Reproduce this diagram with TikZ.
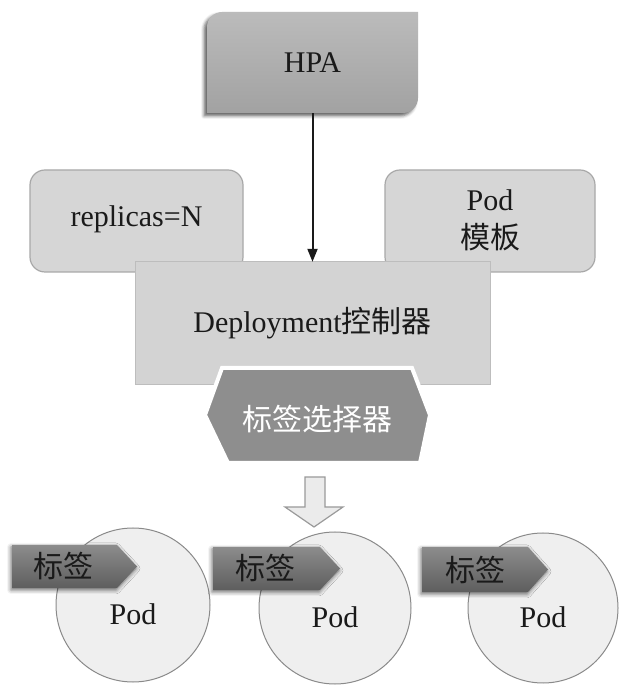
\documentclass[tikz,border=0pt]{standalone}
\usepackage{fontspec}
\setmainfont{Liberation Serif}
\newfontfamily\cjk{Noto Sans CJK SC}
\usetikzlibrary{shadows,shadows.blur,arrows.meta}
\definecolor{hpaTop}{HTML}{BBBBBB}
\definecolor{hpaBot}{HTML}{A2A2A2}
\definecolor{boxFill}{HTML}{D6D6D6}
\definecolor{boxEdge}{HTML}{A8A8A8}
\definecolor{depFill}{HTML}{D3D3D3}
\definecolor{depEdge}{HTML}{BDBDBD}
\definecolor{selFill}{HTML}{8E8E8E}
\definecolor{arrFill}{HTML}{EBEBEB}
\definecolor{arrEdge}{HTML}{9A9A9A}
\definecolor{circFill}{HTML}{EFEFEF}
\definecolor{circEdge}{HTML}{8A8A8A}
\definecolor{tagTop}{HTML}{8C8C8C}
\definecolor{tagBot}{HTML}{5E5E5E}
\definecolor{ink}{HTML}{1A1A1A}
\tikzset{
  txt/.style={inner sep=0pt, text=ink, align=center},
  softbox/.style={fill=boxFill, draw=boxEdge, line width=1.2pt, rounded corners=15pt},
  podcirc/.style={circle, draw=circEdge, fill=circFill, line width=1pt, inner sep=0pt},
  tagshape/.style={top color=tagTop, bottom color=tagBot,
    blur shadow={shadow xshift=-1pt, shadow yshift=-2pt, shadow blur radius=4pt, shadow opacity=60}},
}
\begin{document}
\begin{tikzpicture}[x=1pt,y=1pt, font=\fontsize{30}{40}\selectfont]
\useasboundingbox (0,0) rectangle (625,685);
% side boxes
\path[softbox] (30,413) rectangle (243,515);
\node[txt, minimum width=213pt, minimum height=102pt] (rep) at (136.5,466) {replicas=N};
\path[softbox] (385,413) rectangle (595,515);
\node[txt, minimum width=210pt, minimum height=102pt] (tpl) at (490,465) {Pod\\[-2pt]{\cjk 模板}};
% deployment
\path[fill=depFill, draw=depEdge, line width=1pt] (135,300) rectangle (490,423);
\node[txt, minimum width=355pt, minimum height=123pt] (dep) at (312.5,361.5) {Deployment{\cjk 控制器}};
% selector hexagon
\path[fill=selFill, draw=white, line width=4pt, line join=miter]
  (205,270) -- (222,317) -- (412,317) -- (430,270) -- (420,222) -- (228,222) -- cycle;
\node[txt, text=white, font=\cjk\fontsize{30}{36}\selectfont] (sel) at (317,266) {标签选择器};
% HPA
\path[top color=hpaTop, bottom color=hpaBot,
  blur shadow={shadow xshift=-3pt, shadow yshift=-3pt, shadow blur radius=3pt, shadow opacity=60}]
  (207,572) -- (207,658) arc[start angle=180, end angle=90, radius=15]
  -- (418,673) -- (418,587) arc[start angle=0, end angle=-90, radius=15] -- cycle;
\node[txt, minimum width=211pt, minimum height=101pt] (hpa) at (312.5,622.5) {HPA};
\draw[-{Triangle[length=13pt,width=10pt]}, line width=2pt, ink] (hpa.south) -- (dep.north);
% hollow arrow
\path[fill=arrFill, draw=arrEdge, line width=1.2pt, line join=miter]
  (305,208) -- (325,208) -- (325,178) -- (343,178) -- (314,158) -- (285,178) -- (305,178) -- cycle;
% pods
\node[podcirc, minimum size=154pt] (c1) at (133,80) {};
\node[podcirc, minimum size=152pt] (c2) at (335,77) {};
\node[podcirc, minimum size=150pt] (c3) at (543,77) {};
\node[txt] (p1) at (133,71) {Pod};
\node[txt] (p2) at (335,68) {Pod};
\node[txt] (p3) at (543,68) {Pod};
% tags
\path[tagshape] (12,97) -- (12,140) -- (117,140) -- (137,118.5) -- (117,97) -- cycle;
\node[txt, font=\cjk\fontsize{30}{36}\selectfont] (t1) at (63,119) {标签};
\path[tagshape] (213,95) -- (213,138) -- (320,138) -- (340,116.5) -- (320,95) -- cycle;
\node[txt, font=\cjk\fontsize{30}{36}\selectfont] (t2) at (265,117) {标签};
\path[tagshape] (422,93) -- (422,138) -- (528,138) -- (548,115.5) -- (528,93) -- cycle;
\node[txt, font=\cjk\fontsize{30}{36}\selectfont] (t3) at (475,115) {标签};
\end{tikzpicture}
\end{document}
